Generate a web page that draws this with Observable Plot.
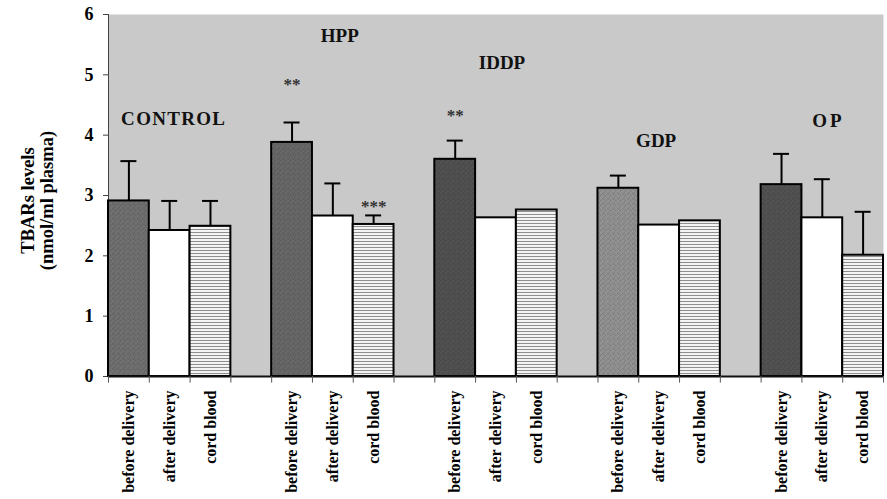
<!DOCTYPE html>
<html>
<head>
<meta charset="utf-8">
<script src="https://cdn.jsdelivr.net/npm/d3@7"></script>
<script src="https://cdn.jsdelivr.net/npm/@observablehq/plot@0.6"></script>
<style>
  body { margin: 0; background: #fff; }
  #chart { width: 887px; height: 499px; }
</style>
</head>
<body>
<div id="chart"></div>
<script>
// ---- data ----
const groups = ["CONTROL", "HPP", "IDDP", "GDP", "OP"];
const samples = ["before delivery", "after delivery", "cord blood"];
const beforeDelivery = [2.91, 3.88, 3.60, 3.12, 3.18];
const afterDelivery  = [2.42, 2.66, 2.63, 2.51, 2.63];
const cordBlood      = [2.49, 2.52, 2.76, 2.58, 2.01];
const beforeErr = [0.66, 0.33, 0.31, 0.21, 0.51];
const afterErr  = [0.49, 0.54, null, null, 0.64];
const cordErr   = [0.42, 0.15, null, null, 0.72];
const yTicks = [0, 1, 2, 3, 4, 5, 6];
const yLabel = "TBARs levels\n(nmol/ml plasma)";
const groupLabelY = [4.27, 5.65, 5.2, 3.9, 4.24];
const stars = [
  {group: "HPP", sample: "before delivery", text: "**", y: 4.93},
  {group: "HPP", sample: "cord blood", text: "***", y: 2.9},
  {group: "IDDP", sample: "before delivery", text: "**", y: 4.4}
];

// ---- styles ----
const beforeColors = {CONTROL: "#6c6c6c", HPP: "#646464", IDDP: "#4e4e4e", GDP: "#8c8c8c", OP: "#4f4f4f"};
const labelDx = {CONTROL: 4, HPP: 7, IDDP: 6, GDP: -3, OP: 6};
const serif = "'Liberation Serif', 'Times New Roman', serif";

// patterns
const defs = d3.select("body").append("svg")
  .attr("width", 0).attr("height", 0)
  .style("position", "absolute").append("defs");
for (const g of groups) {
  const c = d3.color(beforeColors[g]);
  const p = defs.append("pattern").attr("id", "st-" + g)
    .attr("patternUnits", "userSpaceOnUse").attr("width", 5).attr("height", 5);
  p.append("rect").attr("width", 5).attr("height", 5).attr("fill", c.formatHex());
  const dk = c.darker(0.3).formatHex(), lt = c.brighter(0.25).formatHex();
  [[0,0,dk],[2,1,lt],[4,2,dk],[1,3,lt],[3,4,dk],[3,0,lt],[0,2,lt],[2,3,dk]].forEach(([x,y,f]) =>
    p.append("rect").attr("x", x).attr("y", y).attr("width", 1).attr("height", 1).attr("fill", f));
}
const cp = defs.append("pattern").attr("id", "cord")
  .attr("patternUnits", "userSpaceOnUse").attr("width", 4).attr("height", 3);
cp.append("rect").attr("width", 4).attr("height", 3).attr("fill", "#f4f4f4");
cp.append("rect").attr("y", 1).attr("width", 4).attr("height", 1).attr("fill", "#8e8e8e");

// ---- build table ----
const key = (g, s) => g + "|" + s;
const slots = [];
groups.forEach((g, i) => {
  samples.forEach(s => slots.push(key(g, s)));
  if (i < groups.length - 1) slots.push("gap" + i);
});
const realKeys = slots.filter(k => k.includes("|"));
const values = [beforeDelivery, afterDelivery, cordBlood];
const errs = [beforeErr, afterErr, cordErr];
const rows = [];
groups.forEach((g, i) => samples.forEach((s, j) => rows.push({
  group: g, sample: s, key: key(g, s), value: values[j][i], err: errs[j][i],
  fill: j === 0 ? `url(#st-${g})` : j === 1 ? "#ffffff" : "url(#cord)"
})));
const errRows = rows.filter(d => d.err != null);

const W = 887, H = 499, mL = 108, mR = 4, mT = 14, mB = 123;
const bw = (W - mL - mR) / slots.length;

const plot = Plot.plot({
  width: W, height: H,
  marginLeft: mL, marginRight: mR, marginTop: mT, marginBottom: mB,
  style: {background: "transparent", fontFamily: serif, color: "#000"},
  x: {type: "band", domain: slots, padding: 0, round: false, axis: null},
  y: {domain: [0, 6], axis: null},
  color: {type: "identity"},
  marks: [
    Plot.frame({fill: "#c9c9c9", stroke: "none"}),
    Plot.ruleX([slots[0]], {y1: 0, y2: 6, dx: -bw / 2, stroke: "#444", strokeWidth: 1}),
    Plot.axisY({ticks: yTicks, tickFormat: d3.format("d"), tickSize: 5, tickPadding: 10, fontSize: 18, fontWeight: "bold", fontFamily: serif, label: null, stroke: "#444"}),
    Plot.text([yLabel], {frameAnchor: "left", textAnchor: "middle", dx: -71, dy: 5, rotate: -90, text: d => d, fontSize: 18.5, fontWeight: "bold", fontFamily: serif, lineHeight: 1.05, fill: "#000"}),
    Plot.ruleX(errRows, {x: "key", y1: "value", y2: d => d.value + d.err, stroke: "#000", strokeWidth: 2}),
    Plot.tickY(errRows, {x: "key", y: d => d.value + d.err, stroke: "#000", strokeWidth: 2, insetLeft: 12.4, insetRight: 12.4}),
    Plot.barY(rows, {x: "key", y: "value", fill: "fill", stroke: "#000", strokeWidth: 2}),
    Plot.ruleY([0], {stroke: "#111", strokeWidth: 2}),
    Plot.ruleX(realKeys, {x: d => d, y1: 0, y2: -0.11, dx: -bw / 2, stroke: "#555", strokeWidth: 1}),
    Plot.ruleX(realKeys.filter(k => k.endsWith("cord blood")), {x: d => d, y1: 0, y2: -0.11, dx: bw / 2, stroke: "#555", strokeWidth: 1}),
    Plot.axisX({ticks: realKeys, tickFormat: d => d.split("|")[1], tickSize: 0, tickPadding: 14, tickRotate: -90, fontSize: 16, fontWeight: "bold", fontFamily: serif, label: null}),
    ...groups.map((g, i) => Plot.text([g], {
      x: () => key(g, "after delivery"), y: () => groupLabelY[i], text: d => d, dx: labelDx[g],
      fontSize: 19, fontWeight: "bold", fontFamily: serif, fill: "#111"
    })),
    Plot.text(stars, {x: d => key(d.group, d.sample), y: "y", text: "text", dy: 5, fontSize: 17, fontWeight: "bold", fontFamily: serif, fill: "#333"})
  ]
});
document.getElementById("chart").appendChild(plot);
d3.select(plot).selectAll("text").filter(function() { return this.textContent === "CONTROL"; }).attr("letter-spacing", "1.3px");
d3.select(plot).selectAll("text").filter(function() { return this.textContent === "OP"; }).attr("letter-spacing", "3px");
</script>
</body>
</html>
